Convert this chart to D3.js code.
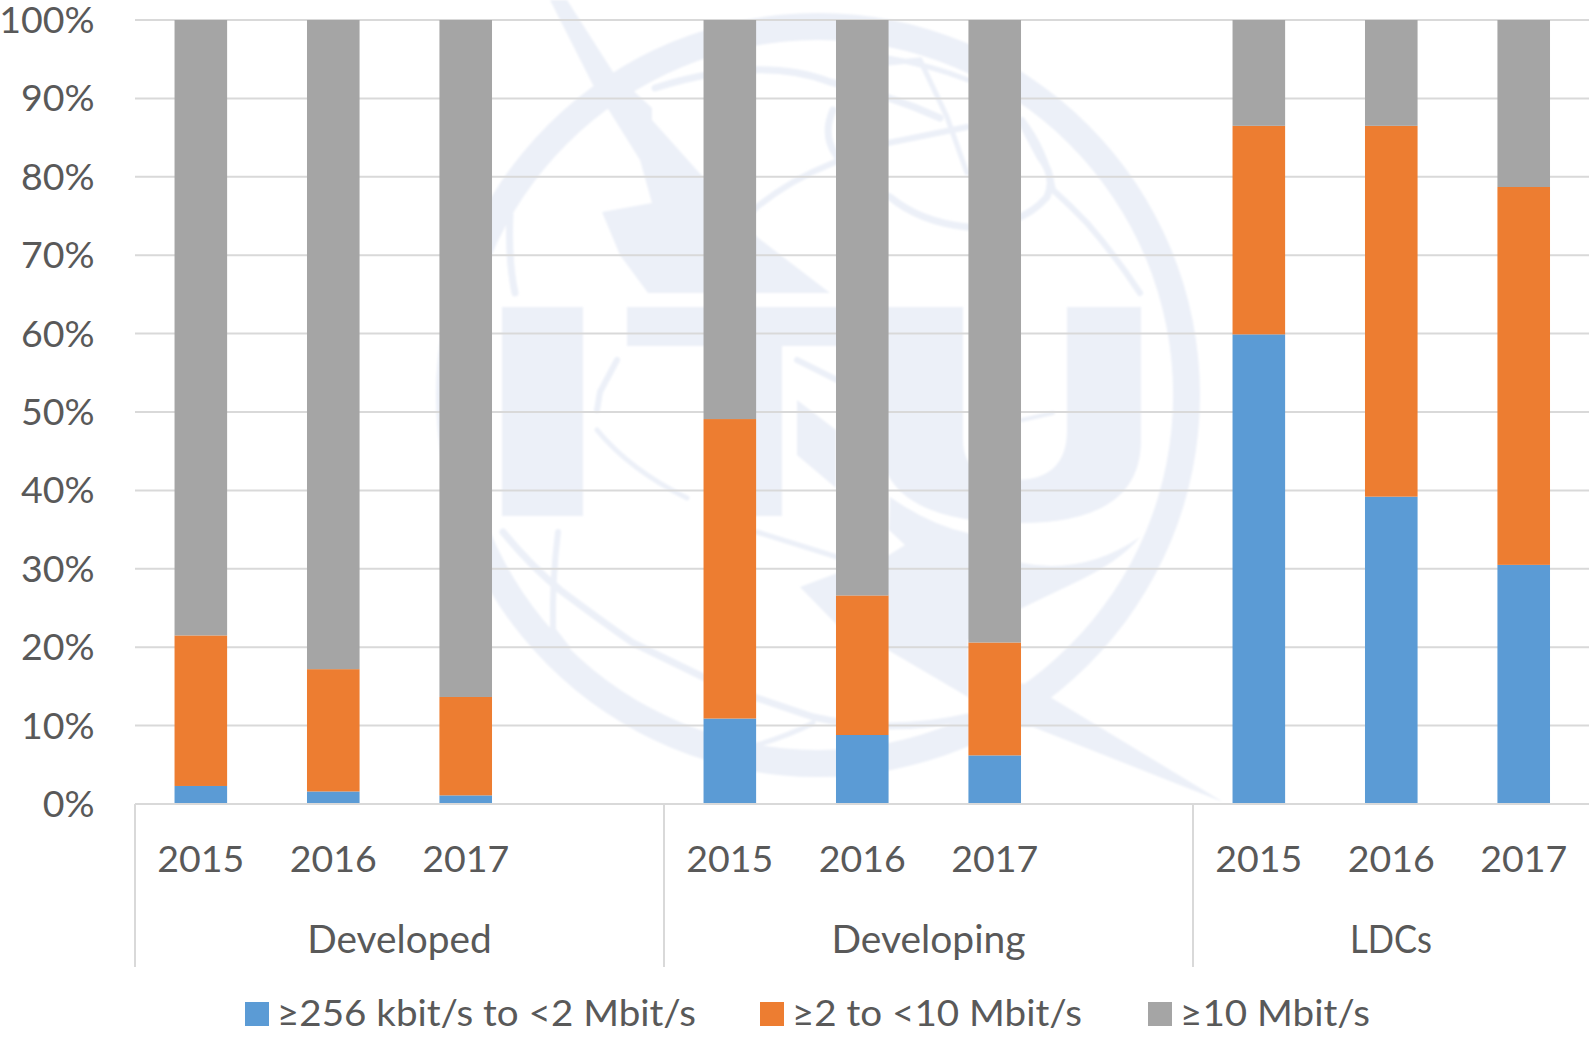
<!DOCTYPE html>
<html>
<head>
<meta charset="utf-8">
<script src="https://cdn.jsdelivr.net/npm/d3@7"></script>
<style>
html,body{margin:0;padding:0;background:#fff;overflow:hidden}
svg{display:block}
text{font-family:Lato,"Open Sans",sans-serif;fill:#595959}
</style>
</head>
<body>
<svg id="chart" width="1589" height="1038"></svg>
<script>
const groups = ["Developed", "Developing", "LDCs"];
const years = ["2015", "2016", "2017"];
const seriesNames = ["≥256 kbit/s to <2 Mbit/s", "≥2 to <10 Mbit/s", "≥10 Mbit/s"];
const seriesColors = ["#5b9bd5", "#ed7d31", "#a5a5a5"];
const slow = [2.3, 1.6, 1.1, 10.9, 8.8, 6.2, 59.9, 39.2, 30.5];
const medium = [19.2, 15.6, 12.55, 38.2, 17.8, 14.4, 26.6, 47.3, 48.2];
const fast = [78.5, 82.8, 86.35, 50.9, 73.4, 79.4, 13.5, 13.5, 21.3];
const yTicks = [0, 10, 20, 30, 40, 50, 60, 70, 80, 90, 100];

const W = 1589, H = 1038;
const svg = d3.select("#chart");
const plotTop = 20, plotBottom = 804, plotLeft = 135, groupW = 529;
const axisColor = "#d9d9d9";

// Faint ITU emblem behind the plot (decoration, not data)
const logoFill = "#ecf0f8";
svg.append("defs").append("filter").attr("id", "soft")
  .append("feGaussianBlur").attr("stdDeviation", 0.9);
const logo = svg.append("g").attr("class", "watermark").attr("filter", "url(#soft)");
logo.append("path").attr("fill", logoFill).attr("d",
  d3.arc()({innerRadius: 355, outerRadius: 382, startAngle: 0, endAngle: 2 * Math.PI}))
  .attr("transform", "translate(818,395)");
const fills = [
  "M550,0 L567,0 L613,72 L652,108 L652,120 L703,177 L757,237 L830,293 L648,293 L620,255 L602,212 L652,203 L640,160 L610,112 L593,85 Z",
  "M502,307 H583 V516 H502 Z",
  "M627,307 H860 V346 H782 V516 H706 V346 H627 Z",
  "M880,307 H963 V440 Q963,480 1015,480 Q1067,480 1067,430 V307 H1141 V440 Q1141,523 1020,523 Q880,523 880,440 Z",
  "M797,400 L836,430 V488 L797,455 Z",
  "M890,497 Q930,525 968,533 L1022,563 Q1085,575 1140,537 Q1120,562 1070,585 L1022,608 L968,640 L968,697 L1022,727 L1033,727 L1223,802 L1050,697 L1022,683 L968,697 L888,650 L840,628 L800,587 L840,572 L889,555 L905,545 L889,530 Z"
];
logo.selectAll("path.fill").data(fills).join("path").attr("class", "fill").attr("fill", logoFill).attr("d", d => d);
const strokes = [
  ["M655,88 Q760,55 830,82 Q890,95 940,118", 7],
  ["M833,110 Q822,135 836,155 Q860,190 890,197 Q920,222 967,227 Q1020,228 1047,197 Q1056,177 1040,157 L1022,123", 7],
  ["M700,262 L757,207 Q790,180 833,163 L888,143 L967,127", 6],
  ["M888,63 L920,60 L947,117 L967,173", 5],
  ["M888,58 Q930,65 968,80", 5],
  ["M1022,120 Q1045,150 1053,190 Q1070,205 1087,223 Q1115,255 1140,293", 6],
  ["M510,215 Q508,260 515,293", 7],
  ["M503,532 Q530,565 560,590 Q600,620 633,643 L703,677 L757,698 L813,717 Q890,735 968,717", 7],
  ["M558,532 Q552,580 553,630 L567,648", 6],
  ["M617,360 L600,392 L597,410", 6],
  ["M597,430 Q630,470 687,498", 5],
  ["M757,745 Q790,735 813,723", 5],
  ["M797,360 L837,380", 6],
  ["M757,532 L837,557", 5],
  ["M1022,420 L1053,413", 4]
];
logo.selectAll("path.line").data(strokes).join("path").attr("class", "line")
  .attr("fill", "none").attr("stroke", logoFill).attr("stroke-linecap", "round")
  .attr("stroke-width", d => d[1]).attr("d", d => d[0]);

const y = d3.scaleLinear().domain([0, 100]).range([plotBottom, plotTop]);
const xGroup = d3.scaleBand().domain(groups).range([plotLeft, plotLeft + groupW * groups.length]);
const xYear = d3.scaleBand().domain([...years, ""]).range([0, groupW]).paddingInner(0.603).paddingOuter(0.2985);

// gridlines
svg.append("g").selectAll("line").data(yTicks.filter(t => t > 0)).join("line")
  .attr("x1", plotLeft).attr("x2", W).attr("y1", d => y(d)).attr("y2", d => y(d))
  .attr("stroke", axisColor).attr("stroke-width", 2);

// stacked bars
const rows = [];
groups.forEach((g, i) => years.forEach((yr, j) => {
  const k = i * years.length + j;
  rows.push({group: g, year: yr, s0: slow[k], s1: medium[k], s2: fast[k]});
}));
const stack = d3.stack().keys(["s0", "s1", "s2"]);
svg.append("g").selectAll("g").data(stack(rows)).join("g")
  .attr("fill", (d, i) => seriesColors[i])
  .selectAll("rect").data(d => d).join("rect")
  .attr("x", d => xGroup(d.data.group) + xYear(d.data.year))
  .attr("width", xYear.bandwidth())
  .attr("y", d => y(d[1]))
  .attr("height", d => y(d[0]) - y(d[1]));

// value axis
const yAxis = svg.append("g").attr("transform", "translate(94.5,0.5)")
  .call(d3.axisLeft(y).tickValues(yTicks).tickFormat(d => d + "%").tickSize(0).tickPadding(0));
yAxis.select(".domain").remove();
yAxis.selectAll("text").attr("font-size", 37.5).style("font-family", "Lato").attr("fill", "#595959");

// category axis
svg.append("line").attr("x1", plotLeft).attr("x2", W).attr("y1", plotBottom).attr("y2", plotBottom)
  .attr("stroke", axisColor).attr("stroke-width", 2);
svg.append("g").selectAll("line").data(groups).join("line")
  .attr("x1", d => xGroup(d)).attr("x2", d => xGroup(d))
  .attr("y1", plotBottom).attr("y2", 967).attr("stroke", axisColor).attr("stroke-width", 2);
svg.append("g").selectAll("text").data(rows).join("text")
  .attr("x", d => xGroup(d.group) + xYear(d.year) + xYear.bandwidth() / 2)
  .attr("y", 872).attr("text-anchor", "middle").attr("font-size", 37.5).text(d => d.year);
const groupLabelWidth = [184.5, 194, 82];
svg.append("g").selectAll("text").data(groups).join("text")
  .attr("x", d => (xGroup(d) + Math.min(xGroup(d) + xGroup.bandwidth(), W)) / 2)
  .attr("y", 953).attr("text-anchor", "middle").attr("font-size", 38)
  .attr("textLength", (d, i) => groupLabelWidth[i]).attr("lengthAdjust", "spacingAndGlyphs").text(d => d);

// legend
const legendSwatchX = [245, 760, 1148];
const legendTextWidth = [419, 290, 190];
const legend = svg.append("g").selectAll("g").data(seriesNames).join("g")
  .attr("transform", (d, i) => `translate(${legendSwatchX[i]},1002)`);
legend.append("rect").attr("width", 24).attr("height", 24).attr("fill", (d, i) => seriesColors[i]);
legend.append("text").attr("x", 32).attr("y", 24).attr("font-size", 37)
  .attr("textLength", (d, i) => legendTextWidth[i]).attr("lengthAdjust", "spacingAndGlyphs").text(d => d);
</script>
</body>
</html>
